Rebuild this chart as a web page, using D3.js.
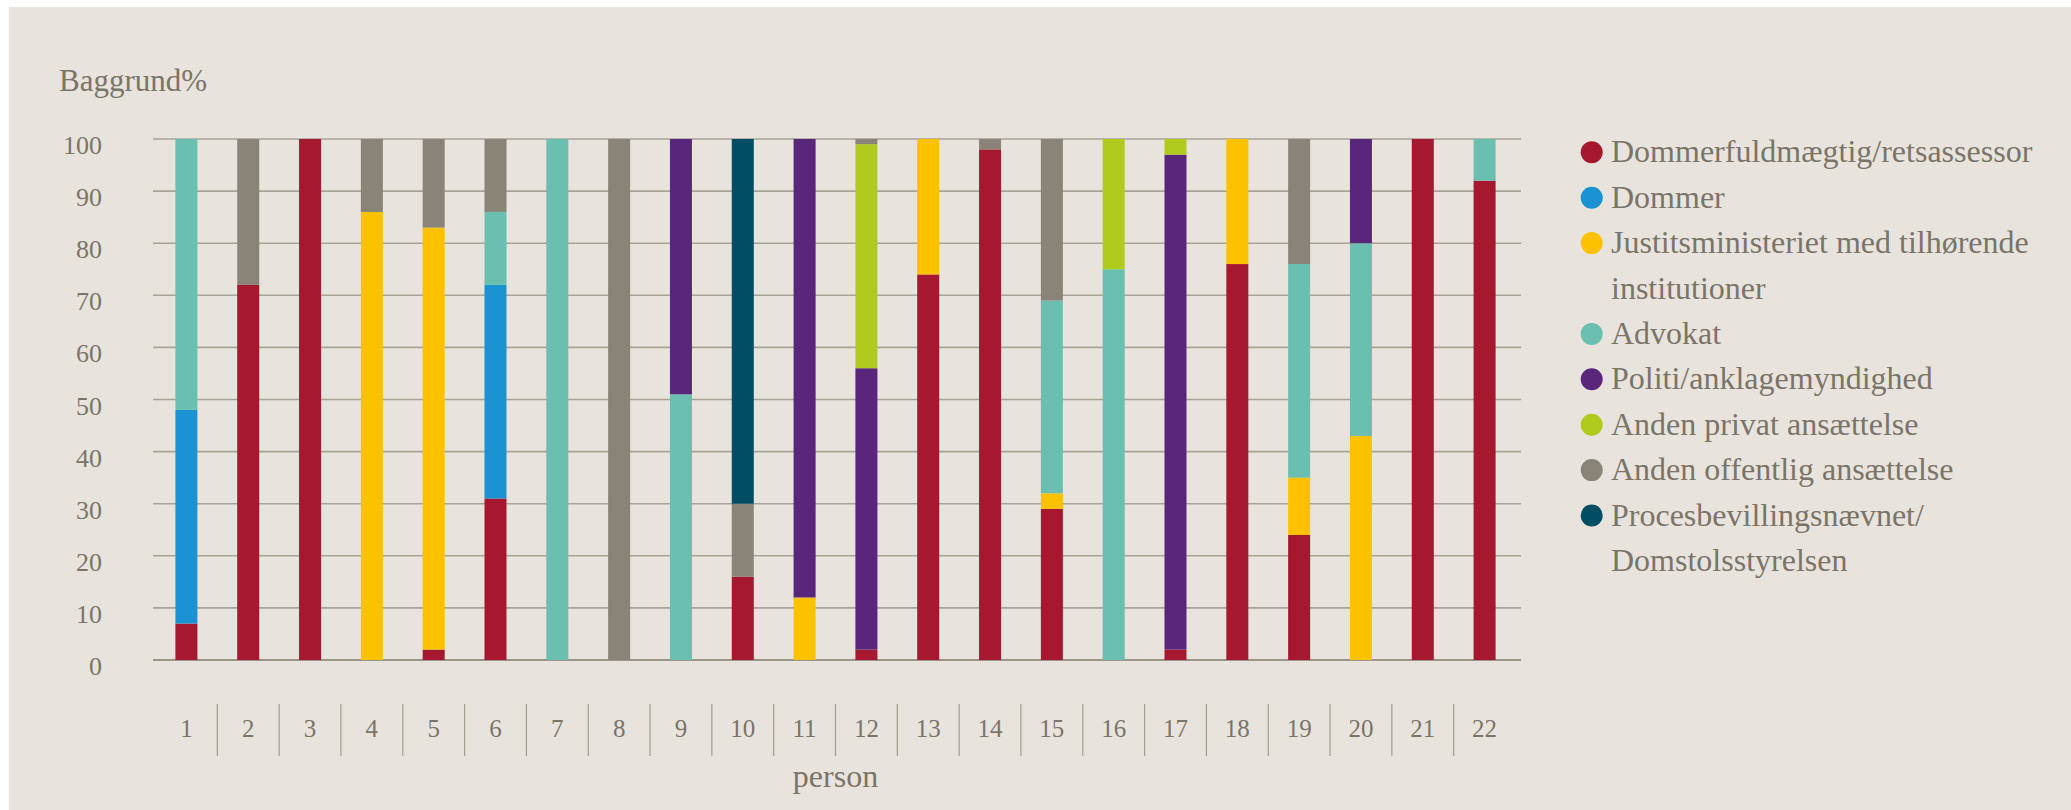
<!DOCTYPE html>
<html>
<head>
<meta charset="utf-8">
<script src="https://cdn.jsdelivr.net/npm/d3@7"></script>
<style>
body { margin: 0; background: #ffffff; }
text { font-family: "Liberation Serif", serif; fill: #7a7469; }
</style>
</head>
<body>
<div id="chart-area"></div>
<script>

// personer 1-22
var persons = ["1","2","3","4","5","6","7","8","9","10","11","12","13","14","15","16","17","18","19","20","21","22"];

var categories = ["Dommerfuldmægtig/retsassessor", "Dommer", "Justitsministeriet med tilhørende institutioner",
    "Advokat", "Politi/anklagemyndighed", "Anden privat ansættelse", "Anden offentlig ansættelse",
    "Procesbevillingsnævnet/ Domstolsstyrelsen"];

var dommerfuldmaegtig = [7, 72, 100, 0, 2, 31, 0, 0, 0, 16, 0, 2, 74, 98, 29, 0, 2, 76, 24, 0, 100, 92];
var dommer            = [41, 0, 0, 0, 0, 41, 0, 0, 0, 0, 0, 0, 0, 0, 0, 0, 0, 0, 0, 0, 0, 0];
var justits           = [0, 0, 0, 86, 81, 0, 0, 0, 0, 0, 12, 0, 26, 0, 3, 0, 0, 24, 11, 43, 0, 0];
var advokat           = [52, 0, 0, 0, 0, 14, 100, 0, 51, 0, 0, 0, 0, 0, 37, 75, 0, 0, 41, 37, 0, 8];
var politi            = [0, 0, 0, 0, 0, 0, 0, 0, 49, 0, 88, 54, 0, 0, 0, 0, 95, 0, 0, 20, 0, 0];
var andenPrivat       = [0, 0, 0, 0, 0, 0, 0, 0, 0, 0, 0, 43, 0, 0, 0, 25, 3, 0, 0, 0, 0, 0];
var andenOffentlig    = [0, 28, 0, 14, 17, 14, 0, 100, 0, 14, 0, 1, 0, 2, 31, 0, 0, 0, 24, 0, 0, 0];
var procesbevilling   = [0, 0, 0, 0, 0, 0, 0, 0, 0, 70, 0, 0, 0, 0, 0, 0, 0, 0, 0, 0, 0, 0];

var yTicks = [0, 10, 20, 30, 40, 50, 60, 70, 80, 90, 100];

var series = [dommerfuldmaegtig, dommer, justits, advokat, politi, andenPrivat, andenOffentlig, procesbevilling];
var colors = ["#a51830", "#1b93d3", "#fcc200", "#6abfb0", "#5a267c", "#b0cb1e", "#898378", "#014e64"];

// legend lines (some labels wrap to two lines)
var legendLines = [
    ["Dommerfuldmægtig/retsassessor"],
    ["Dommer"],
    ["Justitsministeriet med tilhørende", "institutioner"],
    ["Advokat"],
    ["Politi/anklagemyndighed"],
    ["Anden privat ansættelse"],
    ["Anden offentlig ansættelse"],
    ["Procesbevillingsnævnet/", "Domstolsstyrelsen"]
];

var data = persons.map(function(p, i){
    var row = {person: p};
    categories.forEach(function(c, j){
        row[c] = series[j][i];
    });
    return row;
});

var W = 2071, H = 810;

var svg = d3.select("#chart-area")
    .append("svg")
    .attr("width", W)
    .attr("height", H);

svg.append("rect")
    .attr("x", 9)
    .attr("y", 7)
    .attr("width", W - 9)
    .attr("height", H - 7)
    .attr("fill", "#e8e4dd");

var x = d3.scaleBand()
    .domain(persons)
    .range([155.5, 1515.5])
    .paddingInner(0.644)
    .paddingOuter(0.322);

var xBand = d3.scaleBand()
    .domain(persons)
    .range([155.5, 1515.5]);

var y = d3.scaleLinear()
    .domain([0, 100])
    .range([660, 139]);

var gridLeft = 153, gridRight = 1521;

// gridlines
svg.selectAll(".grid")
    .data(yTicks)
    .enter()
    .append("line")
    .attr("class", "grid")
    .attr("x1", gridLeft)
    .attr("x2", gridRight)
    .attr("y1", function(d){ return y(d); })
    .attr("y2", function(d){ return y(d); })
    .attr("stroke", function(d){ return d == 0 ? "#9b9589" : "#a9a397"; })
    .attr("stroke-width", function(d){ return d == 0 ? 2 : 1.6; });

// y labels
svg.selectAll(".ylab")
    .data(yTicks)
    .enter()
    .append("text")
    .attr("class", "ylab")
    .attr("x", 102)
    .attr("y", function(d){ return y(d) + 15; })
    .attr("text-anchor", "end")
    .attr("font-size", "26px")
    .text(function(d){ return d; });

svg.append("text")
    .attr("x", 59)
    .attr("y", 91)
    .attr("font-size", "31px")
    .text("Baggrund%");

// stacked bars
var stack = d3.stack().keys(categories);
var stacked = stack(data);

var layers = svg.selectAll(".layer")
    .data(stacked)
    .enter()
    .append("g")
    .attr("class", "layer")
    .attr("fill", function(d, i){ return colors[i]; });

layers.selectAll("rect")
    .data(function(d){ return d; })
    .enter()
    .append("rect")
    .attr("x", function(d){ return x(d.data.person); })
    .attr("y", function(d){ return y(d[1]); })
    .attr("width", x.bandwidth())
    .attr("height", function(d){ return y(d[0]) - y(d[1]); });

// x axis: separators + labels
svg.selectAll(".sep")
    .data(persons.slice(1))
    .enter()
    .append("line")
    .attr("class", "sep")
    .attr("x1", function(d){ return xBand(d); })
    .attr("x2", function(d){ return xBand(d); })
    .attr("y1", 704)
    .attr("y2", 756)
    .attr("stroke", "#a29c90")
    .attr("stroke-width", 1.2);

svg.selectAll(".xlab")
    .data(persons)
    .enter()
    .append("text")
    .attr("class", "xlab")
    .attr("x", function(d){ return xBand(d) + xBand.bandwidth() / 2; })
    .attr("y", 737)
    .attr("text-anchor", "middle")
    .attr("font-size", "25px")
    .text(function(d){ return d; });

svg.append("text")
    .attr("x", 835.5)
    .attr("y", 787)
    .attr("text-anchor", "middle")
    .attr("font-size", "32px")
    .text("person");

// legend
var rowH = 45.4, legTop = 152.3;
var line = 0;
legendLines.forEach(function(lines, i){
    var cy = legTop + line * rowH;
    svg.append("circle")
        .attr("cx", 1591.7)
        .attr("cy", cy)
        .attr("r", 11)
        .attr("fill", colors[i]);
    lines.forEach(function(t, k){
        svg.append("text")
            .attr("x", 1611)
            .attr("y", cy + 10 + k * rowH)
            .attr("font-size", "32px")
            .text(t);
    });
    line += lines.length;
});

</script>
</body>
</html>
